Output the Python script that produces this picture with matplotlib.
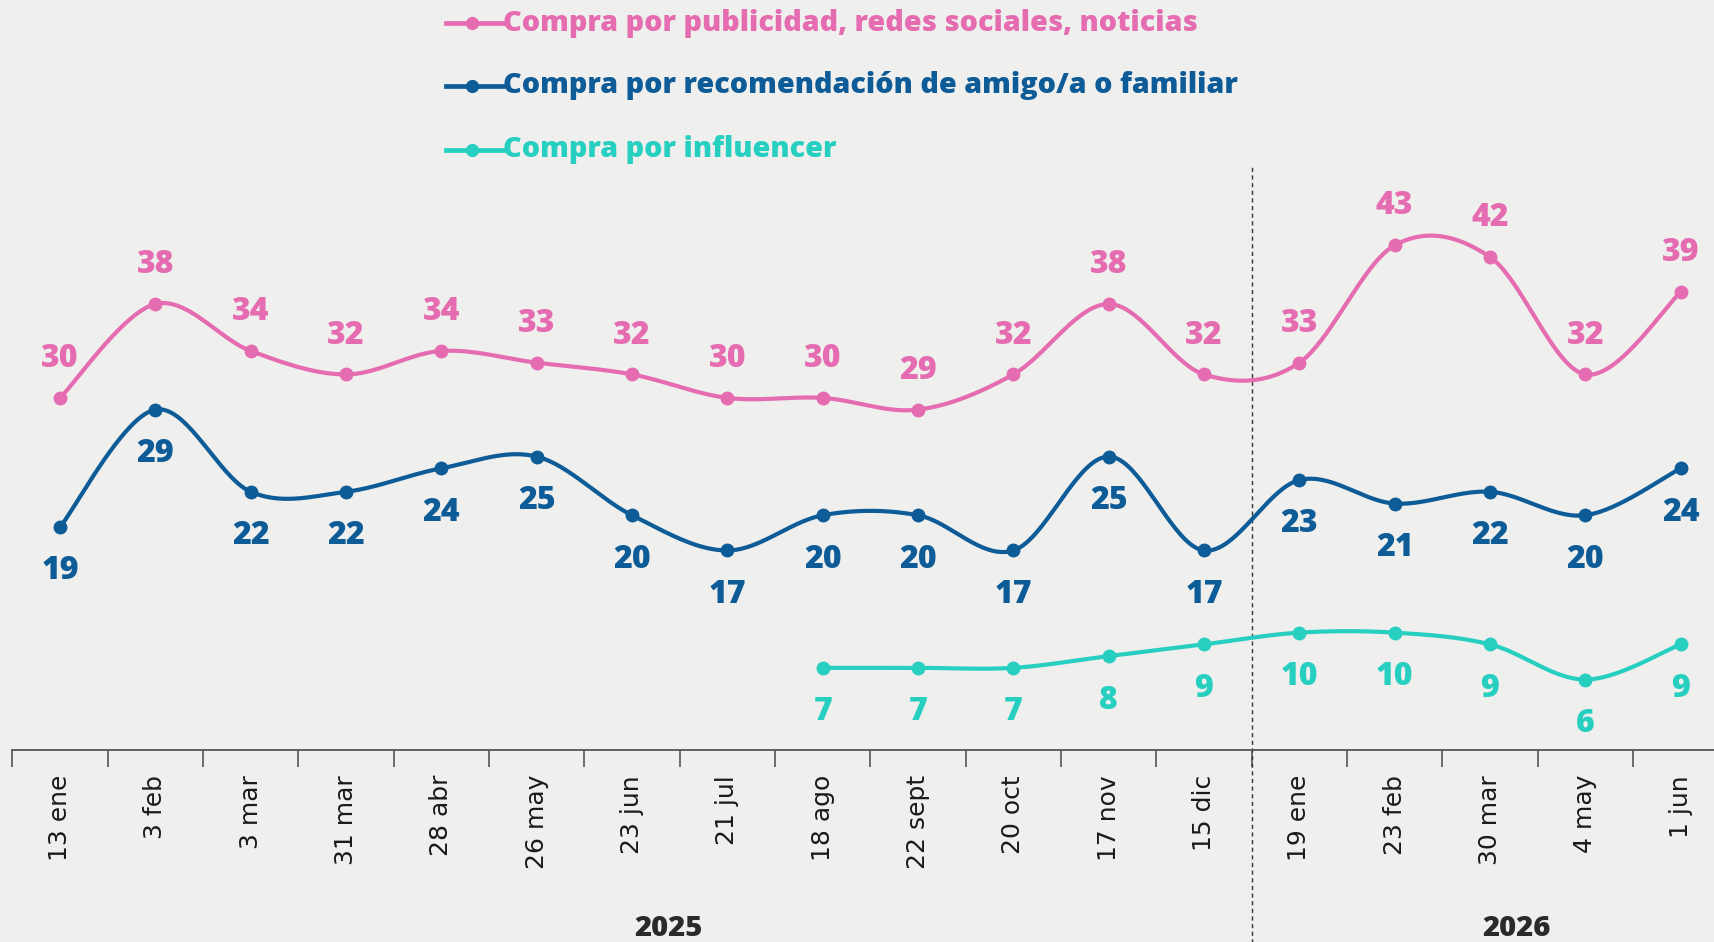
import matplotlib
matplotlib.use("Agg")
import matplotlib.pyplot as plt
from matplotlib.lines import Line2D
from matplotlib.transforms import blended_transform_factory
import numpy as np

# data
fechas = ["13 ene", "3 feb", "3 mar", "31 mar", "28 abr", "26 may", "23 jun", "21 jul",
          "18 ago", "22 sept", "20 oct", "17 nov", "15 dic",
          "19 ene", "23 feb", "30 mar", "4 may", "1 jun"]
publicidad = [30, 38, 34, 32, 34, 33, 32, 30, 30, 29, 32, 38, 32, 33, 43, 42, 32, 39]
recomendacion = [19, 29, 22, 22, 24, 25, 20, 17, 20, 20, 17, 25, 17, 23, 21, 22, 20, 24]
influencer_idx = [8, 9, 10, 11, 12, 13, 14, 15, 16, 17]
influencer = [7, 7, 7, 8, 9, 10, 10, 9, 6, 9]
anios = ["2025", "2026"]

PINK = "#E56CB0"
BLUE = "#0D5B97"
TEAL = "#27CFC1"
BG = "#EFEFEE"


def catmull_rom(x, y, n=40):
    # smooth curve through the points (uniform Catmull-Rom)
    x = np.asarray(x, float)
    y = np.asarray(y, float)
    px = np.concatenate([[x[0]], x, [x[-1]]])
    py = np.concatenate([[y[0]], y, [y[-1]]])
    xs, ys = [], []
    t = np.linspace(0, 1, n)
    for i in range(1, len(px) - 2):
        for arr, out in ((px, xs), (py, ys)):
            p0, p1, p2, p3 = arr[i - 1], arr[i], arr[i + 1], arr[i + 2]
            out.append(0.5 * (2 * p1 + (-p0 + p2) * t
                              + (2 * p0 - 5 * p1 + 4 * p2 - p3) * t ** 2
                              + (-p0 + 3 * p1 - 3 * p2 + p3) * t ** 3))
    return np.concatenate(xs), np.concatenate(ys)


W, H = 1714, 942
fig = plt.figure(figsize=(W / 100, H / 100), dpi=100, facecolor=BG)
ax = fig.add_axes([12.4 / W, 1 - 750 / H, 1 - 12.4 / W, 750 / H])
ax.set_facecolor(BG)
ax.set_xlim(-0.5, 17.35)
ax.set_ylim(0, 63.9)

LABEL_FONT = ["Open Sans", "DejaVu Sans"]

series = [
    (list(range(len(publicidad))), publicidad, PINK, 28),
    (list(range(len(recomendacion))), recomendacion, BLUE, -32),
    (influencer_idx, influencer, TEAL, -32),
]
for xs, ys, col, off in series:
    cx, cy = catmull_rom(xs, ys)
    ax.plot(cx, cy, color=col, lw=3.0, solid_capstyle="round", zorder=3)
    ax.plot(xs, ys, "o", color=col, ms=9, zorder=4)
    for x, v in zip(xs, ys):
        ax.annotate(str(v), (x, v), xytext=(0, off), textcoords="offset points",
                    ha="center", va="center", fontsize=23, fontweight=800,
                    color=col, family=LABEL_FONT)

# dashed separator between years
ax.plot([12.5, 12.5], [-16.5, 49.7], ls=(0, (3, 2.5)), color="#333333", lw=1.0,
        clip_on=False, zorder=2)

# axes styling
for s in ("left", "top", "right"):
    ax.spines[s].set_visible(False)
ax.spines["bottom"].set_color("#555555")
ax.spines["bottom"].set_linewidth(1.3)
ax.set_yticks([])
ax.set_xticks(range(len(fechas)))
ax.set_xticklabels(fechas, rotation=90, fontsize=18, color="#1a1a1a", family="DejaVu Sans")
ax.tick_params(axis="x", which="major", length=0, pad=18)
ax.set_xticks(np.arange(-0.5, 17.5, 1.0), minor=True)
ax.tick_params(axis="x", which="minor", length=12, width=1.2, color="#555555")

trans = blended_transform_factory(ax.transData, fig.transFigure)
for xpos, anio in zip([6.38, 15.28], anios):
    ax.text(xpos, 1 - 929 / H, anio, transform=trans, ha="center", va="center",
            fontsize=21, fontweight=800, color="#2a2a2a", family=LABEL_FONT)

# legend drawn by hand
leg = [("Compra por publicidad, redes sociales, noticias", PINK, 23),
       ("Compra por recomendación de amigo/a o familiar", BLUE, 86),
       ("Compra por influencer", TEAL, 150)]
for txt, col, ypx in leg:
    yf = 1 - ypx / H
    fig.add_artist(Line2D([446 / W, 503 / W], [yf, yf], color=col, lw=3.4,
                          transform=fig.transFigure))
    fig.add_artist(Line2D([472 / W], [yf], marker="o", ms=8.5, color=col,
                          transform=fig.transFigure))
    fig.text(503 / W, yf, txt, ha="left", va="center", fontsize=20.7,
             fontweight=800, color=col, family=LABEL_FONT)

fig.savefig("out.png", dpi=100, facecolor=BG)
